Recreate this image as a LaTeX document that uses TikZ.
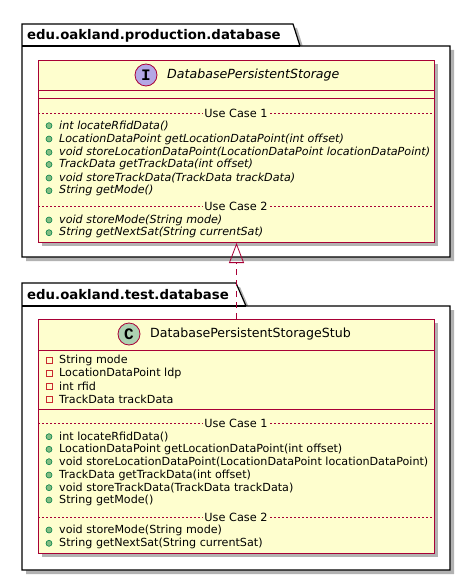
\documentclass[tikz,border=0pt]{standalone}
\usepackage{fontspec}
\setmainfont{DejaVu Sans}
\newfontfamily\badgefont{Liberation Mono}
\usetikzlibrary{arrows.meta}
\definecolor{umlfill}{HTML}{FEFECE}
\definecolor{umlline}{HTML}{A80036}
\definecolor{ifacecirc}{HTML}{B4A7E5}
\definecolor{classcirc}{HTML}{ADD1B2}
\definecolor{pubdot}{HTML}{84BE84}
\definecolor{pubdotline}{HTML}{038048}
\definecolor{privline}{HTML}{C82930}
\begin{document}
\begin{tikzpicture}[
    x=1pt, y=-1pt,
    pkg/.style={draw=black, fill=white, line width=1.2pt},
    pkgshadow/.style={fill=black!30, draw=none},
    pkgname/.style={anchor=base west, inner sep=0pt, font=\fontsize{13.3}{15}\selectfont\bfseries},
    umlbox/.style={draw=umlline, fill=umlfill, line width=1pt, anchor=north west, inner sep=0pt},
    boxshadow/.style={fill=black!30, draw=none},
    title/.style={anchor=west, inner sep=0pt, font=\fontsize{12.6}{14}\selectfont},
    member/.style={anchor=west, inner sep=0pt, font=\fontsize{11.15}{13}\selectfont},
    pub/.style={circle, draw=pubdotline, fill=pubdot, line width=0.6pt, minimum size=6pt, inner sep=0pt},
    priv/.style={rectangle, draw=privline, fill=none, line width=0.8pt, minimum size=6pt, inner sep=0pt},
    badge/.style={circle, draw=umlline, line width=0.8pt, minimum size=22pt, inner sep=0pt, font=\fontsize{16}{16}\selectfont\badgefont\bfseries},
    usecase/.style={fill=umlfill, inner sep=1pt, font=\fontsize{11.3}{13}\selectfont},
    sep/.style={draw=umlline, line width=0.5pt, dash pattern=on 2pt off 2pt}
]
  \useasboundingbox (0,0) rectangle (471,580);

  % Package edu.oakland.production.database
  \fill[pkgshadow] (26,28) -- (297,28) -- (304,50) -- (454,50) -- (454,261) -- (26,261) -- cycle;
  \draw[pkg] (22,24) -- (293,24) -- (300,46) -- (450,46) -- (450,257) -- (22,257) -- cycle;
  \draw[pkg] (22,46) -- (300,46);
  \node[pkgname] (pkgprod) at (27,40) {edu.oakland.production.database};

  % Interface
  \fill[boxshadow] (42,64) rectangle (438,246);
  \node[umlbox, minimum width=396pt, minimum height=182pt] (iface) at (38,60) {};
  \draw[umlline, line width=1pt] (38,91) -- (434,91);
  \draw[umlline, line width=1pt] (38,99) -- (434,99);
  \node[badge, fill=ifacecirc] (ibadge) at (146,75) {I};
  \node[title, font=\fontsize{12.6}{14}\selectfont\itshape] (ititle) at (167,75) {DatabasePersistentStorage};
  \draw[sep] (38,113) -- (434,113);
  \node[usecase] (iuc1) at (236,113) {Use Case 1};
  \node[pub] (ib1) at (49,125.7) {};
  \node[member] (im1) at (59,125.7) {\itshape int locateRfidData()};
  \node[pub] (ib2) at (49,139) {};
  \node[member] (im2) at (59,139) {\itshape LocationDataPoint getLocationDataPoint(int offset)};
  \node[pub] (ib3) at (49,152.3) {};
  \node[member] (im3) at (59,152.3) {\itshape void storeLocationDataPoint(LocationDataPoint locationDataPoint)};
  \node[pub] (ib4) at (49,164.5) {};
  \node[member] (im4) at (59,164.5) {\itshape TrackData getTrackData(int offset)};
  \node[pub] (ib5) at (49,178) {};
  \node[member] (im5) at (59,178) {\itshape void storeTrackData(TrackData trackData)};
  \node[pub] (ib6) at (49,190.7) {};
  \node[member] (im6) at (59,190.7) {\itshape String getMode()};
  \draw[sep] (38,206.7) -- (434,206.7);
  \node[usecase] (iuc2) at (236,206.7) {Use Case 2};
  \node[pub] (ib7) at (49,220) {};
  \node[member] (im7) at (59,220) {\itshape void storeMode(String mode)};
  \node[pub] (ib8) at (49,232.7) {};
  \node[member] (im8) at (59,232.7) {\itshape String getNextSat(String currentSat)};

  % Package edu.oakland.test.database
  \fill[pkgshadow] (26,287) -- (240,287) -- (250,310) -- (454,310) -- (454,574) -- (26,574) -- cycle;
  \draw[pkg] (22,283) -- (236,283) -- (246,306) -- (450,306) -- (450,570) -- (22,570) -- cycle;
  \draw[pkg] (22,306) -- (246,306);
  \node[pkgname] (pkgtest) at (27,299) {edu.oakland.test.database};

  % Stub class
  \fill[boxshadow] (42,323) rectangle (438,557);
  \node[umlbox, minimum width=396pt, minimum height=234pt] (stub) at (38,319) {};
  \draw[umlline, line width=1pt] (38,350) -- (434,350);
  \draw[umlline, line width=1pt] (38,409) -- (434,409);
  \node[badge, fill=classcirc] (cbadge) at (129,334) {C};
  \node[title] (ctitle) at (150,334) {DatabasePersistentStorageStub};
  \node[priv] (sp1) at (49,360) {};
  \node[member] (sa1) at (59,360) {String mode};
  \node[priv] (sp2) at (49,373) {};
  \node[member] (sa2) at (59,373) {LocationDataPoint ldp};
  \node[priv] (sp3) at (49,386) {};
  \node[member] (sa3) at (59,386) {int rfid};
  \node[priv] (sp4) at (49,399) {};
  \node[member] (sa4) at (59,399) {TrackData trackData};
  \draw[sep] (38,423) -- (434,423);
  \node[usecase] (suc1) at (236,423) {Use Case 1};
  \node[pub] (sb1) at (49,436.7) {};
  \node[member] (sm1) at (59,436.7) {int locateRfidData()};
  \node[pub] (sb2) at (49,449.3) {};
  \node[member] (sm2) at (59,449.3) {LocationDataPoint getLocationDataPoint(int offset)};
  \node[pub] (sb3) at (49,461.7) {};
  \node[member] (sm3) at (59,461.7) {void storeLocationDataPoint(LocationDataPoint locationDataPoint)};
  \node[pub] (sb4) at (49,475) {};
  \node[member] (sm4) at (59,475) {TrackData getTrackData(int offset)};
  \node[pub] (sb5) at (49,487.7) {};
  \node[member] (sm5) at (59,487.7) {void storeTrackData(TrackData trackData)};
  \node[pub] (sb6) at (49,500) {};
  \node[member] (sm6) at (59,500) {String getMode()};
  \draw[sep] (38,517) -- (434,517);
  \node[usecase] (suc2) at (236,517) {Use Case 2};
  \node[pub] (sb7) at (49,530) {};
  \node[member] (sm7) at (59,530) {void storeMode(String mode)};
  \node[pub] (sb8) at (49,543.3) {};
  \node[member] (sm8) at (59,543.3) {String getNextSat(String currentSat)};

  % Realization
  \draw[umlline, line width=0.8pt, dash pattern=on 6pt off 5pt,
        -{Triangle[open, length=20pt, width=15pt, line width=0.8pt]}] (stub.north) -- (iface.south);
\end{tikzpicture}
\end{document}
